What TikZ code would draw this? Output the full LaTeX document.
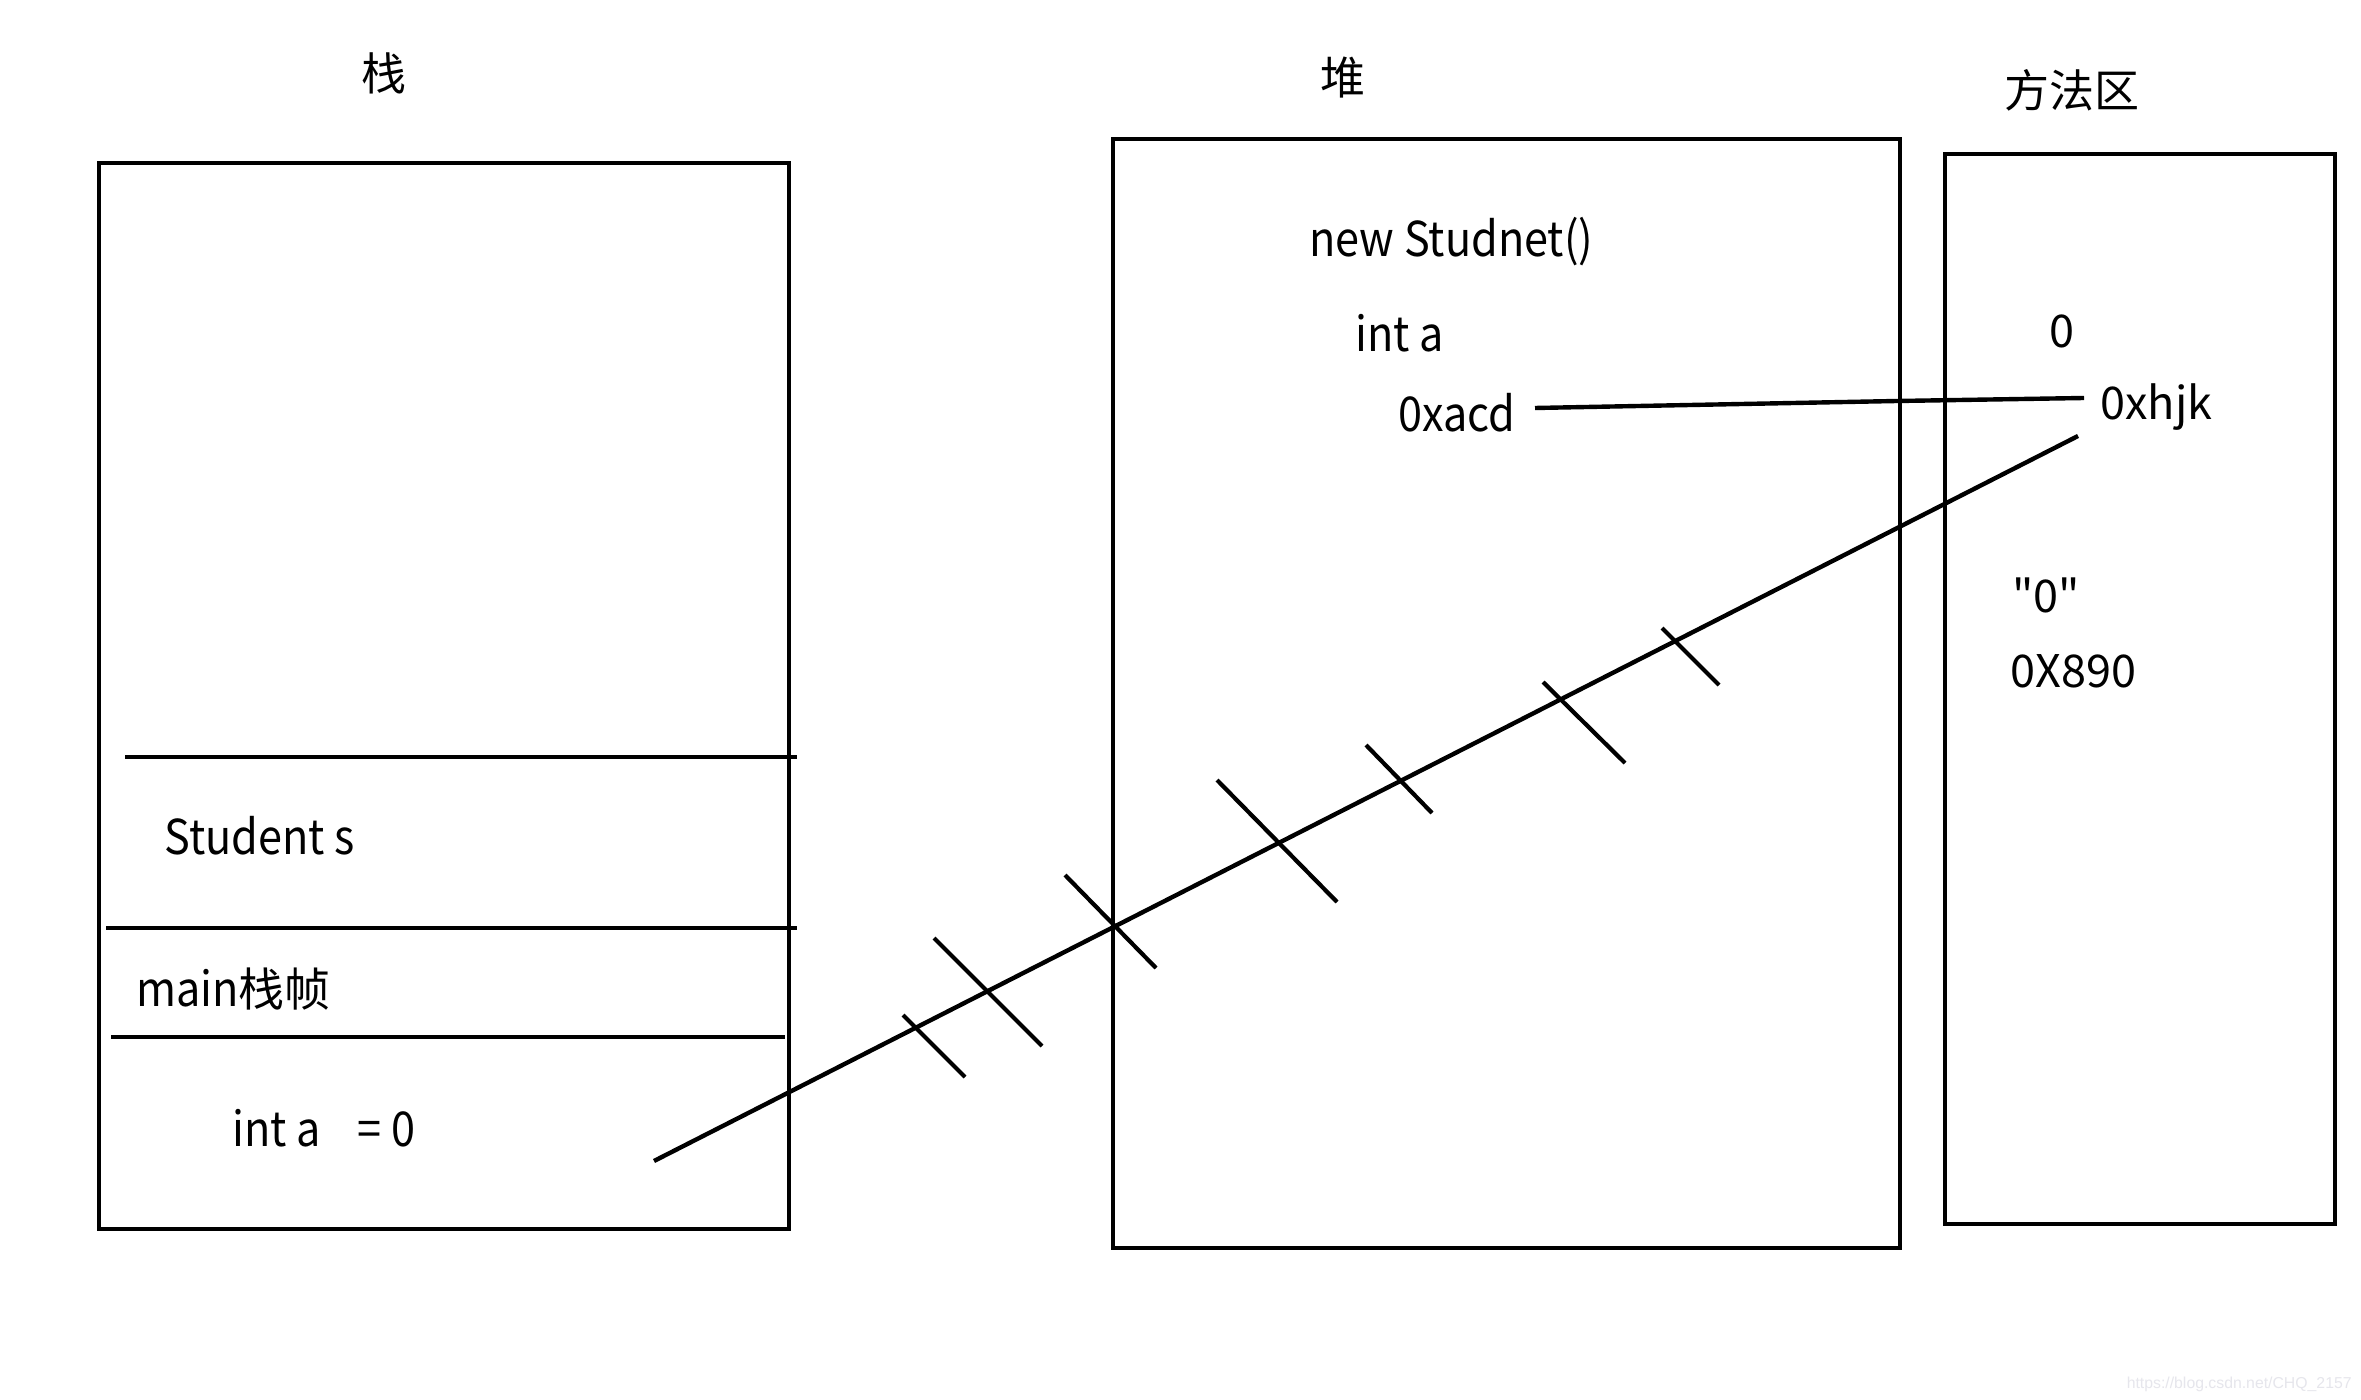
\documentclass[tikz,border=0pt]{standalone}
\usepackage{fontspec}
\setmainfont{Noto Sans CJK SC}
\newfontfamily\plainfont{Noto Sans CJK SC}
\newfontfamily\narrowfont{Noto Sans CJK SC}[FakeStretch=0.9]
\newfontfamily\wmfont{Liberation Sans}
\definecolor{wmgray}{HTML}{E6E6EC}
\begin{document}
\begin{tikzpicture}[x=0.5pt,y=-0.5pt,
  box/.style={draw=black,line width=2.4pt},
  sep/.style={draw=black,line width=2.4pt},
  link/.style={draw=black,line width=2.2pt},
  tick/.style={draw=black,line width=2.1pt},
  txt/.style={inner sep=0pt,anchor=base west,font=\narrowfont\fontsize{24pt}{28pt}\selectfont},
  mtxt/.style={inner sep=0pt,anchor=base west,font=\plainfont\fontsize{22.5pt}{26pt}\selectfont},
  ttl/.style={inner sep=0pt,anchor=center,font=\plainfont\fontsize{22.5pt}{26pt}\selectfont}]
\useasboundingbox[fill=white] (0,0) rectangle (2361,1400);

% titles
\node[ttl] (tstack) at (384,73) {栈};
\node[ttl] (theap) at (1343,78) {堆};
\node[ttl] (tmeth) at (2072,90) {方法区};

% boxes
\draw[box] (99,163) rectangle (789,1229);
\draw[box] (1113,139) rectangle (1900,1248);
\draw[box] (1945,154) rectangle (2335,1224);

% stack separators
\draw[sep] (125,757) -- (797,757);
\draw[sep] (106,928) -- (797,928);
\draw[sep] (111,1037) -- (785,1037);

% stack texts
\node[txt] (ss) at (164,854) {Student s};
\node[txt] (mf) at (136,1006) {main{\plainfont\fontsize{23pt}{26pt}\selectfont 栈帧}};
\node[txt] (ia) at (232,1146) {int a};
\node[txt] (eq) at (357,1146) {= 0};

% heap texts
\node[txt] (ns) at (1309,257) {new Studnet()};
\node[txt] (hia) at (1355,352) {int a};
\node[txt] (acd) at (1398,432) {0xacd};

% method area texts
\node[mtxt] (z0) at (2049,348) {0};
\node[mtxt] (hjk) at (2100,420) {0xhjk};
\node[mtxt] (qz) at (2012,613) {"0"};
\node[mtxt] (x890) at (2010,688) {0X890};

% connectors
\coordinate (acdR) at (1535,408);
\coordinate (mid) at (1897,401);
\coordinate (hjkL) at (2084,398);
\draw[link] (acdR) -- (mid) -- (hjkL);

\coordinate (iaR) at (654,1161);
\coordinate (hjkB) at (2078,436);
\draw[link] (iaR) -- (hjkB);

% tick marks
\draw[tick] (903,1015) -- (965,1077);
\draw[tick] (934,938) -- (1042,1046);
\draw[tick] (1065,875) -- (1156,968);
\draw[tick] (1217,780) -- (1337,902);
\draw[tick] (1366,745) -- (1432,813);
\draw[tick] (1543,682) -- (1625,763);
\draw[tick] (1662,628) -- (1719,685);

% watermark
\node[inner sep=0pt,anchor=base east,text=wmgray,font=\wmfont\fontsize{7.9pt}{9pt}\selectfont] (wm) at (2352,1388) {https://blog.csdn.net/CHQ\_2157};
\end{tikzpicture}
\end{document}
